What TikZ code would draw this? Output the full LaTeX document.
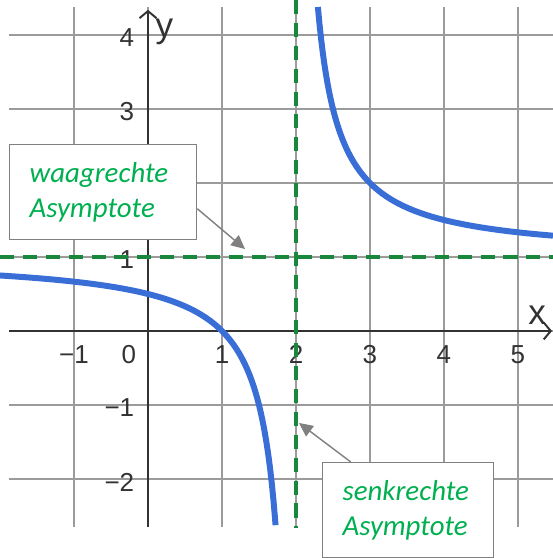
\documentclass[tikz,border=0pt]{standalone}
\usepackage{fontspec}
\setmainfont{Liberation Sans}
\newfontfamily\notefont{Carlito}
\usetikzlibrary{arrows.meta}
\definecolor{gridgray}{RGB}{155,155,155}
\definecolor{axisgray}{RGB}{50,50,50}
\definecolor{curveblue}{RGB}{58,110,215}
\definecolor{asymgreen}{RGB}{25,135,60}
\definecolor{notegreen}{RGB}{0,176,80}
\begin{document}
\begin{tikzpicture}[every node/.style={inner sep=0, text=axisgray, font=\fontsize{10}{11}\selectfont},
  axis/.style={draw=axisgray, line width=0.75pt, -{Straight Barb[length=2.7pt,width=6.5pt]}},
  asym/.style={draw=asymgreen, line width=1.9pt, dash pattern=on 5.4pt off 3.4pt},
  graph/.style={draw=curveblue, line width=2.3pt},
  notebox/.style={draw=gray, fill=white, line width=0.5pt, anchor=north west, align=left, inner xsep=0.27cm, inner ysep=0.1cm,
    minimum height=1.284cm, text=notegreen, font=\notefont\itshape\fontsize{11.1}{13.4}\selectfont},
  pointer/.style={draw=gray, line width=0.55pt, -{Triangle[length=5.3pt,width=5pt]}}]
  \useasboundingbox (-2,-3.068) rectangle (5.473,4.473);
  % grid and axes
  \foreach \x in {-1,...,5} \draw[gridgray, line width=0.7pt] (\x,-2.65) -- (\x,4.378);
  \foreach \y in {-2,...,4} \draw[gridgray, line width=0.7pt] (-1.878,\y) -- (5.473,\y);
  \draw[axis] (0,-2.65) -- (0,4.34);
  \draw[axis] (-1.878,0) -- (5.46,0);
  \foreach \x/\lab in {-1/−1,1/1,2/2,3/3,4/4,5/5} {
    \node[anchor=base] (xl\x) at (\x,-0.44) {\lab};
  }
  \node[anchor=base] (xl0) at (-0.26,-0.44) {0};
  \foreach \y/\lab in {4/4,3/3,1/1,-1/−1,-2/−2} {
    \node[anchor=east] (yl\y) at (-0.18,\y-0.04) {\lab};
  }
  \node[anchor=base west, font=\fontsize{13.5}{13.5}\selectfont] (ylab) at (0.095,3.96) {y};
  \node[anchor=base west, font=\fontsize{13.5}{13.5}\selectfont] (xlab) at (5.135,0.081) {x};
  % graph and asymptotes
  \draw[graph, domain=-2:1.726, samples=150] plot (\x,{1+1/(\x-2)});
  \draw[graph, domain=2.296:5.473, samples=150] plot (\x,{1+1/(\x-2)});
  \draw[asym] (-2,1) -- (5.473,1);
  \draw[asym] (2,4.473) -- (2,-2.66);
  % notes
  \node[notebox, text width=1.987cm] (wbox) at (-1.878,2.527) {waagrechte\\Asymptote};
  \node[notebox, text width=1.771cm] (sbox) at (2.351,-1.770) {senkrechte\\Asymptote};
  \coordinate (wtip) at (1.311,1.108);
  \coordinate (stip) at (2.041,-1.243);
  \draw[pointer] (wbox.-10.6) -- (wtip);
  \draw[pointer] (sbox.140.9) -- (stip);
\end{tikzpicture}
\end{document}
